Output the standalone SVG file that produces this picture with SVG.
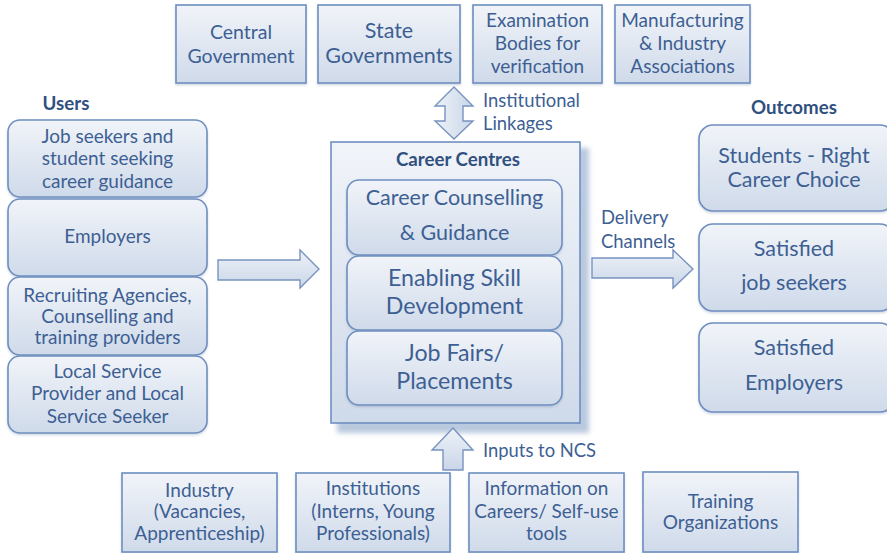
<svg xmlns="http://www.w3.org/2000/svg" width="887" height="553" viewBox="0 0 887 553">
  <defs>
    <linearGradient id="boxFill" x1="0" y1="0" x2="0" y2="1">
      <stop offset="0" stop-color="#f1f4f9"/>
      <stop offset="1" stop-color="#cfdaea"/>
    </linearGradient>
    <linearGradient id="arrowFill" x1="0" y1="0" x2="0" y2="1">
      <stop offset="0" stop-color="#eef2f8"/>
      <stop offset="1" stop-color="#c9d6e8"/>
    </linearGradient>
    <linearGradient id="arrowFillH" x1="0" y1="0" x2="1" y2="0">
      <stop offset="0" stop-color="#eef2f8"/>
      <stop offset="1" stop-color="#c9d6e8"/>
    </linearGradient>
    <filter id="soft" x="-10%" y="-10%" width="130%" height="130%">
      <feGaussianBlur stdDeviation="2.5"/>
    </filter>
    <filter id="drop" x="-10%" y="-10%" width="120%" height="130%">
      <feDropShadow dx="0" dy="1.5" stdDeviation="1.2" flood-color="#7a8fae" flood-opacity="0.35"/>
    </filter>
  </defs>
  <style>
    .box { fill: url(#boxFill); stroke: #6f8fc0; stroke-width: 1.6; filter: url(#drop); }
    .rbox { fill: url(#boxFill); stroke: #6f8fc0; stroke-width: 1.6; filter: url(#drop); }
    .arrow { stroke: #7893c0; stroke-width: 1.4; stroke-linejoin: miter; }
    text { font-family: Lato, "Open Sans", "Liberation Sans", sans-serif; fill: #3d5f93; text-anchor: middle; }
    .t19 { font-size: 19px; }
    .t195 { font-size: 19.5px; }
    .t215 { font-size: 21.5px; }
    .t23 { font-size: 23.2px; }
    .head { font-size: 18.7px; font-weight: bold; fill: #30507f; }
    .lbl { font-size: 18.4px; text-anchor: start; }
  </style>

  <rect width="887" height="553" fill="#ffffff"/>

  <!-- stakeholder bodies along the top -->
  <g id="central-government">
    <rect class="box" x="176" y="5" width="130" height="78"/>
    <text class="t195" x="241" y="39">Central</text>
    <text class="t195" x="241" y="63">Government</text>
  </g>
  <g id="state-governments">
    <rect class="box" x="318" y="5" width="142" height="78"/>
    <text class="t215" x="389" y="38">State</text>
    <text class="t215" x="389" y="63">Governments</text>
  </g>
  <g id="examination-bodies">
    <rect class="box" x="473" y="5" width="129" height="78"/>
    <text class="t19" x="537.5" y="27">Examination</text>
    <text class="t19" x="537.5" y="50">Bodies for</text>
    <text class="t19" x="537.5" y="73">verification</text>
  </g>
  <g id="manufacturing-associations">
    <rect class="box" x="615" y="5" width="135" height="78"/>
    <text class="t19" x="682.5" y="27">Manufacturing</text>
    <text class="t19" x="682.5" y="50">&amp; Industry</text>
    <text class="t19" x="682.5" y="73">Associations</text>
  </g>

  <!-- users column -->
  <text class="head" x="66" y="110">Users</text>
  <g id="user-job-seekers">
    <rect class="rbox" x="8" y="120" width="199" height="77" rx="12"/>
    <text class="t19" x="107.5" y="143">Job seekers and</text>
    <text class="t19" x="107.5" y="165">student seeking</text>
    <text class="t19" x="107.5" y="188">career guidance</text>
  </g>
  <g id="user-employers">
    <rect class="rbox" x="8" y="199" width="199" height="77" rx="12"/>
    <text class="t19" x="107.5" y="243">Employers</text>
  </g>
  <g id="user-recruiting-agencies">
    <rect class="rbox" x="8" y="277" width="199" height="78" rx="12"/>
    <text class="t19" x="107.5" y="302">Recruiting Agencies,</text>
    <text class="t19" x="107.5" y="323">Counselling and</text>
    <text class="t19" x="107.5" y="344">training providers</text>
  </g>
  <g id="user-local-service">
    <rect class="rbox" x="8" y="356" width="199" height="77" rx="12"/>
    <text class="t19" x="107.5" y="378">Local Service</text>
    <text class="t19" x="107.5" y="400">Provider and Local</text>
    <text class="t19" x="107.5" y="423">Service Seeker</text>
  </g>

  <!-- career centre core -->
  <g id="career-centres">
    <rect x="337" y="148" width="252" height="285" fill="#b9c9de" filter="url(#soft)"/>
    <rect x="331" y="142" width="249" height="281" fill="url(#boxFill)" stroke="#6f8fc0" stroke-width="1.6"/>
    <text class="head" x="458" y="166">Career Centres</text>
  </g>
  <g id="career-counselling">
    <rect class="rbox" x="347" y="180" width="215" height="75" rx="12"/>
    <text class="t215" x="454.5" y="205">Career Counselling</text>
    <text class="t215" x="454.5" y="240">&amp; Guidance</text>
  </g>
  <g id="skill-development">
    <rect class="rbox" x="347" y="256" width="215" height="74" rx="12"/>
    <text class="t23" x="454.5" y="286">Enabling Skill</text>
    <text class="t23" x="454.5" y="314">Development</text>
  </g>
  <g id="job-fairs">
    <rect class="rbox" x="347" y="331" width="215" height="74" rx="12"/>
    <text class="t23" x="454.5" y="361">Job Fairs/</text>
    <text class="t23" x="454.5" y="389">Placements</text>
  </g>

  <!-- outcomes column -->
  <text class="head" x="794" y="114">Outcomes</text>
  <g id="outcome-right-choice">
    <rect class="rbox" x="699" y="125" width="195" height="86" rx="14"/>
    <text class="t215" x="794" y="163">Students - Right</text>
    <text class="t215" x="794" y="187">Career Choice</text>
  </g>
  <g id="outcome-job-seekers">
    <rect class="rbox" x="699" y="224" width="195" height="87" rx="14"/>
    <text class="t215" x="794" y="256">Satisfied</text>
    <text class="t215" x="794" y="290">job seekers</text>
  </g>
  <g id="outcome-employers">
    <rect class="rbox" x="699" y="323" width="195" height="89" rx="14"/>
    <text class="t215" x="794" y="355">Satisfied</text>
    <text class="t215" x="794" y="390">Employers</text>
  </g>

  <!-- input sources along the bottom -->
  <g id="industry">
    <rect class="box" x="122" y="473" width="155" height="79"/>
    <text class="t19" x="199.5" y="497">Industry</text>
    <text class="t19" x="199.5" y="518">(Vacancies,</text>
    <text class="t19" x="199.5" y="540">Apprenticeship)</text>
  </g>
  <g id="institutions">
    <rect class="box" x="296" y="473" width="154" height="79"/>
    <text class="t19" x="373" y="495">Institutions</text>
    <text class="t19" x="373" y="518">(Interns, Young</text>
    <text class="t19" x="373" y="540">Professionals)</text>
  </g>
  <g id="career-information">
    <rect class="box" x="469" y="473" width="155" height="79"/>
    <text class="t19" x="546.5" y="495">Information on</text>
    <text class="t19" x="546.5" y="518">Careers/ Self-use</text>
    <text class="t19" x="546.5" y="540">tools</text>
  </g>
  <g id="training-organizations">
    <rect class="box" x="643" y="472" width="155" height="80"/>
    <text class="t19" x="720.5" y="508">Training</text>
    <text class="t19" x="720.5" y="529">Organizations</text>
  </g>

  <!-- block arrows and their labels -->
  <g id="connectors">
    <path class="arrow" fill="url(#arrowFill)" d="M218,260 H300 V250 L319,269 L300,288 V280 H218 Z"/>
    <path class="arrow" fill="url(#arrowFill)" d="M592,258 H673 V250 L693,269 L673,288 V278 H592 Z"/>
    <path class="arrow" fill="url(#arrowFillH)" d="M454,87 L473,106 H463 V121 H473 L454,139 L435,121 H445 V106 H435 Z"/>
    <path class="arrow" fill="url(#arrowFill)" d="M453,428 L473,450 H463 V470 H443 V450 H432 Z"/>
    <text class="lbl" x="483" y="107">Institutional</text>
    <text class="lbl" x="483" y="130">Linkages</text>
    <text class="lbl" x="601" y="224">Delivery</text>
    <text class="lbl" x="601" y="248">Channels</text>
    <text class="lbl" x="483" y="457">Inputs to NCS</text>
  </g>
</svg>
